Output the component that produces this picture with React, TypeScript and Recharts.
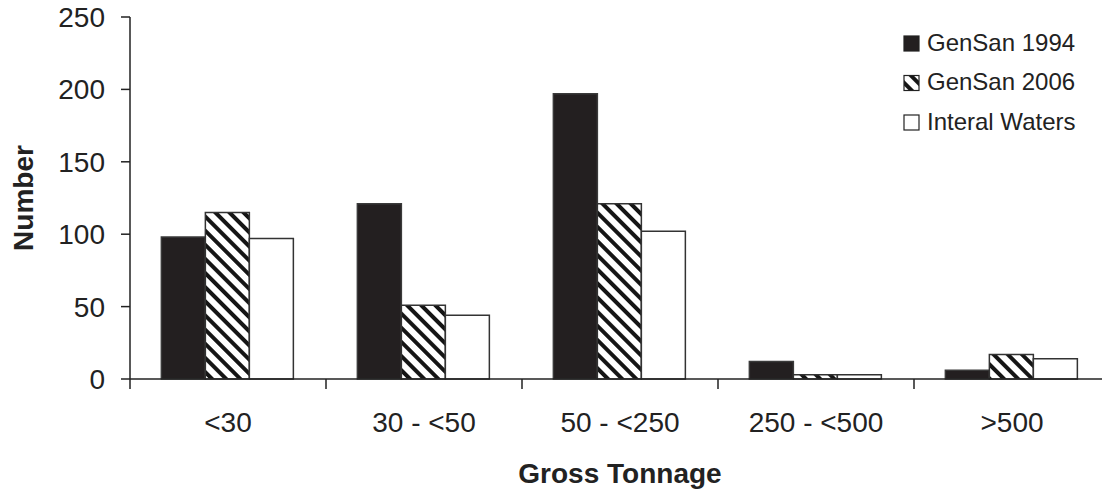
import React from 'react';
import { Bar, BarChart, Legend, XAxis, YAxis } from 'recharts';

// gross tonnage classes and number of vessels per source
const categories = ['<30', '30 - <50', '50 - <250', '250 - <500', '>500'];
const gensan1994 = [98, 121, 197, 12, 6];
const gensan2006 = [115, 51, 121, 3, 17];
const interalWaters = [97, 44, 102, 3, 14];
const yTicks = [0, 50, 100, 150, 200, 250];

const seriesNames = ['GenSan 1994', 'GenSan 2006', 'Interal Waters'];

const data = categories.map((name, i) => ({
  name,
  g1994: gensan1994[i],
  g2006: gensan2006[i],
  interal: interalWaters[i],
}));

const W = 1102;
const H = 491;
const MARGIN = { top: 17, right: -8, bottom: 0, left: 0 };
const Y_AXIS_W = 130;
const HALF_BAND = (W - MARGIN.left - MARGIN.right - Y_AXIS_W) / categories.length / 2;

const INK = '#222';
const FONT = '"Liberation Sans", Arial, sans-serif';

const fills = ['#231f20', 'url(#stripes)', '#ffffff'];

function XTick({ x, y, payload }: any) {
  const edge = x - HALF_BAND;
  return (
    <g>
      <line x1={edge} x2={edge} y1={y} y2={y + 10} stroke={INK} strokeWidth={1.5} />
      <text x={x} y={y + 53} textAnchor="middle" fontSize={28} fill={INK} fontFamily={FONT}>
        {payload.value}
      </text>
    </g>
  );
}

function XTitle({ viewBox }: any) {
  return (
    <text
      x={viewBox.x + viewBox.width / 2}
      y={viewBox.y + 104}
      textAnchor="middle"
      fontSize={28}
      fontWeight="bold"
      fill={INK}
      fontFamily={FONT}
    >
      Gross Tonnage
    </text>
  );
}

function YTitle({ viewBox }: any) {
  const cx = viewBox.x + 33;
  const cy = viewBox.y + viewBox.height / 2;
  return (
    <text
      x={cx}
      y={cy}
      transform={`rotate(-90 ${cx} ${cy})`}
      textAnchor="middle"
      fontSize={28}
      fontWeight="bold"
      fill={INK}
      fontFamily={FONT}
    >
      Number
    </text>
  );
}

function LegendBox() {
  return (
    <svg width={190} height={120} style={{ display: 'block' }}>
      {seriesNames.map((name, i) => (
        <g key={name}>
          <rect x={1} y={8 + i * 39.5} width={15} height={15} fill={fills[i]} stroke={INK} strokeWidth={1.2} />
          <text x={24} y={22.7 + i * 39.5} fontSize={24} fill={INK} fontFamily={FONT}>
            {name}
          </text>
        </g>
      ))}
    </svg>
  );
}

export default function App() {
  return (
    <div style={{ position: 'absolute', left: 0, top: 0, width: W, height: H, background: '#fff' }}>
      <BarChart width={W} height={H} data={data} margin={MARGIN} barCategoryGap="16%" barGap={0}>
        <defs>
          <pattern id="stripes" patternUnits="userSpaceOnUse" width={10} height={10} patternTransform="rotate(-45)">
            <rect width={10} height={10} fill="#fff" />
            <rect width={4} height={10} fill="#151515" />
          </pattern>
        </defs>
        <XAxis
          dataKey="name"
          height={112}
          interval={0}
          tickLine={false}
          tickSize={0}
          tickMargin={0}
          tick={<XTick />}
          axisLine={{ stroke: INK, strokeWidth: 1.5 }}
          label={XTitle}
        />
        <YAxis
          width={Y_AXIS_W}
          domain={[0, 250]}
          ticks={yTicks}
          tickSize={9}
          tickMargin={16}
          tick={{ fontSize: 28, fill: INK, fontFamily: FONT }}
          tickLine={{ stroke: INK, strokeWidth: 1.5 }}
          axisLine={{ stroke: INK, strokeWidth: 1.5 }}
          label={YTitle}
        />
        <Legend
          layout="vertical"
          align="center"
          verticalAlign="middle"
          content={() => <LegendBox />}
          wrapperStyle={{ top: 28, left: 903, width: 190 }}
        />
        <Bar dataKey="g1994" name={seriesNames[0]} fill={fills[0]} stroke="#3a3a3a" strokeWidth={1.5} isAnimationActive={false} />
        <Bar dataKey="g2006" name={seriesNames[1]} fill={fills[1]} stroke="#333" strokeWidth={1.5} isAnimationActive={false} />
        <Bar dataKey="interal" name={seriesNames[2]} fill={fills[2]} stroke="#333" strokeWidth={1.5} isAnimationActive={false} />
      </BarChart>
    </div>
  );
}
